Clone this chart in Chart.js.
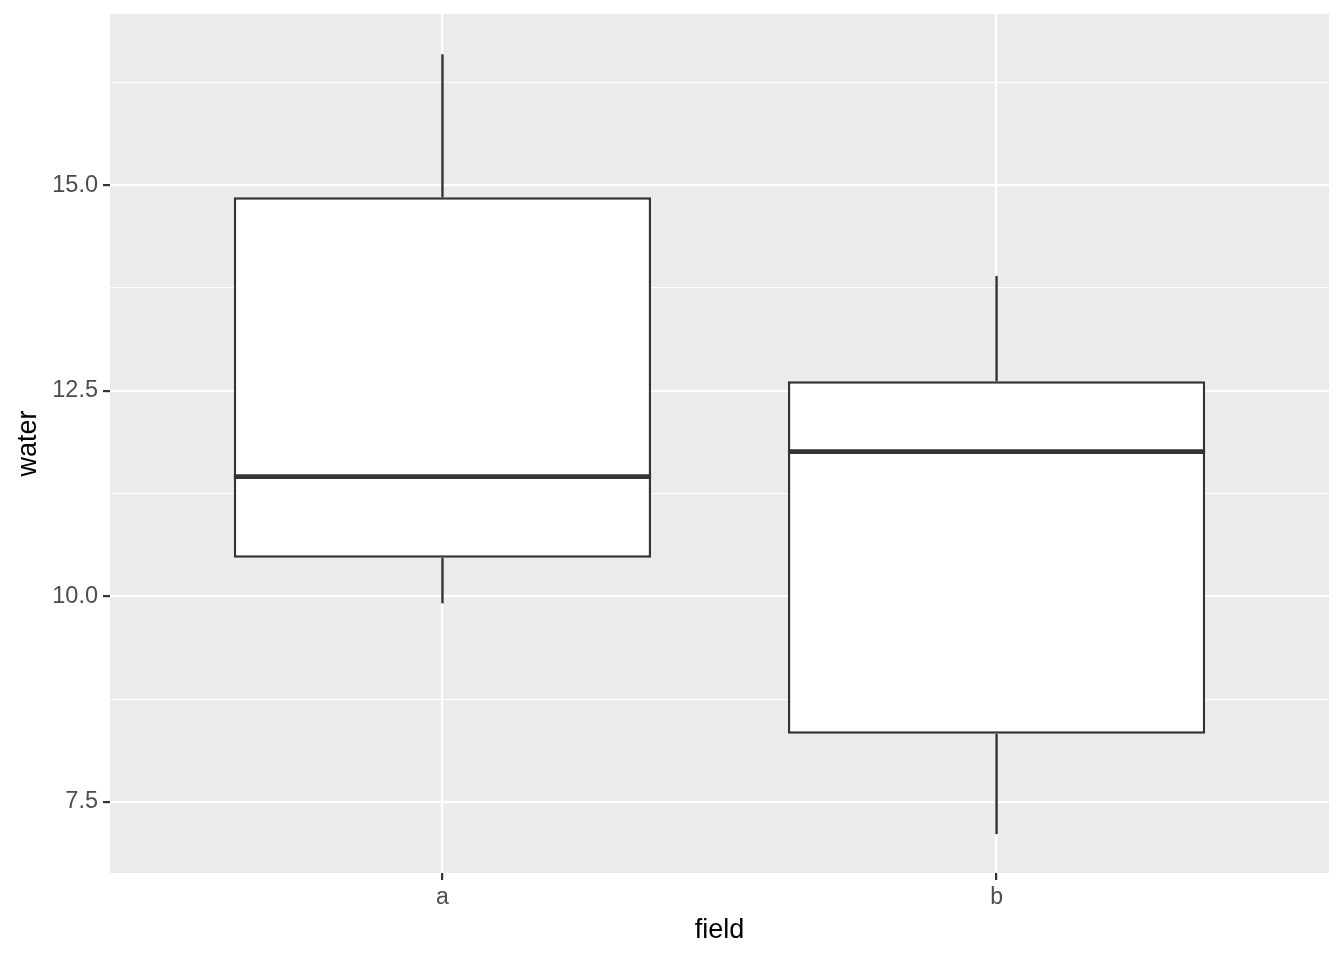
<!DOCTYPE html>
<html>
<head>
<meta charset="utf-8">
<script src="https://cdn.jsdelivr.net/npm/chart.js@4/dist/chart.umd.min.js"></script>
<style>
  html, body { margin: 0; padding: 0; background: #ffffff; }
  #wrap { width: 1344px; height: 960px; }
</style>
</head>
<body>
<div id="wrap"><canvas id="c" width="1344" height="960"></canvas></div>
<script>
// ---- data ----
const categories = ['a', 'b'];
const catPositions = [1, 2];
const whiskerLow = [9.915, 7.11];
const q1 = [10.47, 8.33];
const median = [11.455, 11.76];
const q3 = [14.85, 12.615];
const whiskerHigh = [16.59, 13.895];
const yMajorTicks = [7.5, 10, 12.5, 15];
const yMinorTicks = [8.75, 11.25, 13.75, 16.25];
const yTickLabels = ['7.5', '10.0', '12.5', '15.0'];

const INK = '#333333';
const FONT = '"Liberation Sans", Arial, sans-serif';

const boxData = catPositions.map((x, i) => ({ x: x, y: [q1[i], q3[i]] }));
const upperWhisker = catPositions.map((x, i) => ({ x: x, y: [q3[i], whiskerHigh[i]] }));
const lowerWhisker = catPositions.map((x, i) => ({ x: x, y: [whiskerLow[i], q1[i]] }));

const isMajor = v => yMajorTicks.some(m => Math.abs(m - v) < 1e-9);

const panelBg = {
  id: 'panelBg',
  beforeDraw(chart) {
    const { ctx, chartArea: a } = chart;
    ctx.save();
    ctx.fillStyle = '#EBEBEB';
    ctx.fillRect(a.left, a.top, a.right - a.left, a.bottom - a.top);
    ctx.restore();
  }
};

const medianPlugin = {
  id: 'medianLines',
  afterDatasetsDraw(chart) {
    const meta = chart.getDatasetMeta(2);
    const yS = chart.scales.y;
    const ctx = chart.ctx;
    ctx.save();
    ctx.strokeStyle = INK;
    ctx.lineWidth = 4.8;
    ctx.lineCap = 'butt';
    meta.data.forEach((el, i) => {
      const y = yS.getPixelForValue(median[i]);
      ctx.beginPath();
      ctx.moveTo(el.x - el.width / 2, y);
      ctx.lineTo(el.x + el.width / 2, y);
      ctx.stroke();
    });
    ctx.restore();
  }
};

new Chart(document.getElementById('c'), {
  type: 'bar',
  data: {
    datasets: [
      { label: 'upper', data: upperWhisker, backgroundColor: INK, borderWidth: 0,
        grouped: false, categoryPercentage: 1, barPercentage: 0.01, maxBarThickness: 2.4 },
      { label: 'lower', data: lowerWhisker, backgroundColor: INK, borderWidth: 0,
        grouped: false, categoryPercentage: 1, barPercentage: 0.01, maxBarThickness: 2.4 },
      { label: 'box', data: boxData, backgroundColor: '#FFFFFF', borderColor: INK, borderWidth: 2.4,
        borderSkipped: false, grouped: false, categoryPercentage: 1, barPercentage: 0.753 }
    ]
  },
  options: {
    responsive: false,
    animation: false,
    devicePixelRatio: 1,
    layout: { padding: { top: 14, right: 15, left: 0, bottom: 0 } },
    plugins: { legend: { display: false }, tooltip: { enabled: false } },
    scales: {
      x: {
        type: 'linear',
        min: 0.4,
        max: 2.6,
        offset: false,
        afterBuildTicks: s => { s.ticks = catPositions.map(v => ({ value: v })); },
        afterFit: s => { s.height = 87; s.paddingLeft = 0; s.paddingRight = 0; },
        border: { display: false },
        grid: {
          offset: false,
          color: '#FFFFFF',
          lineWidth: 2.2,
          drawTicks: true,
          tickLength: 7,
          tickColor: INK,
          tickWidth: 2.2
        },
        ticks: {
          padding: 4,
          color: '#4D4D4D',
          font: { family: FONT, size: 23 },
          callback: v => { const i = catPositions.indexOf(v); return i >= 0 ? categories[i] : ''; },
          maxRotation: 0,
          autoSkip: false
        },
        title: {
          display: true,
          text: 'field',
          color: '#000000',
          font: { family: FONT, size: 27 },
          padding: { top: 0, bottom: 12.8 }
        }
      },
      y: {
        type: 'linear',
        min: 6.637,
        max: 17.079,
        afterBuildTicks: s => {
          s.ticks = yMajorTicks.concat(yMinorTicks).sort((a, b) => a - b).map(v => ({ value: v }));
        },
        afterFit: s => { s.width = 110; s.paddingTop = 0; s.paddingBottom = 0; },
        border: { display: false },
        grid: {
          color: '#FFFFFF',
          lineWidth: c => (c.tick && isMajor(c.tick.value)) ? 2.2 : 1.1,
          drawTicks: true,
          tickLength: 7,
          tickColor: c => (c.tick && isMajor(c.tick.value)) ? INK : 'rgba(0,0,0,0)',
          tickWidth: 2.2
        },
        ticks: {
          padding: 5,
          color: '#4D4D4D',
          font: { family: FONT, size: 23.5 },
          callback: v => {
            const i = yMajorTicks.findIndex(m => Math.abs(m - v) < 1e-9);
            return i >= 0 ? yTickLabels[i] : '';
          },
          autoSkip: false
        },
        title: {
          display: true,
          text: 'water',
          color: '#000000',
          font: { family: FONT, size: 27 },
          padding: { top: 12.5, bottom: 0 }
        }
      }
    }
  },
  plugins: [panelBg, medianPlugin]
});
</script>
</body>
</html>
